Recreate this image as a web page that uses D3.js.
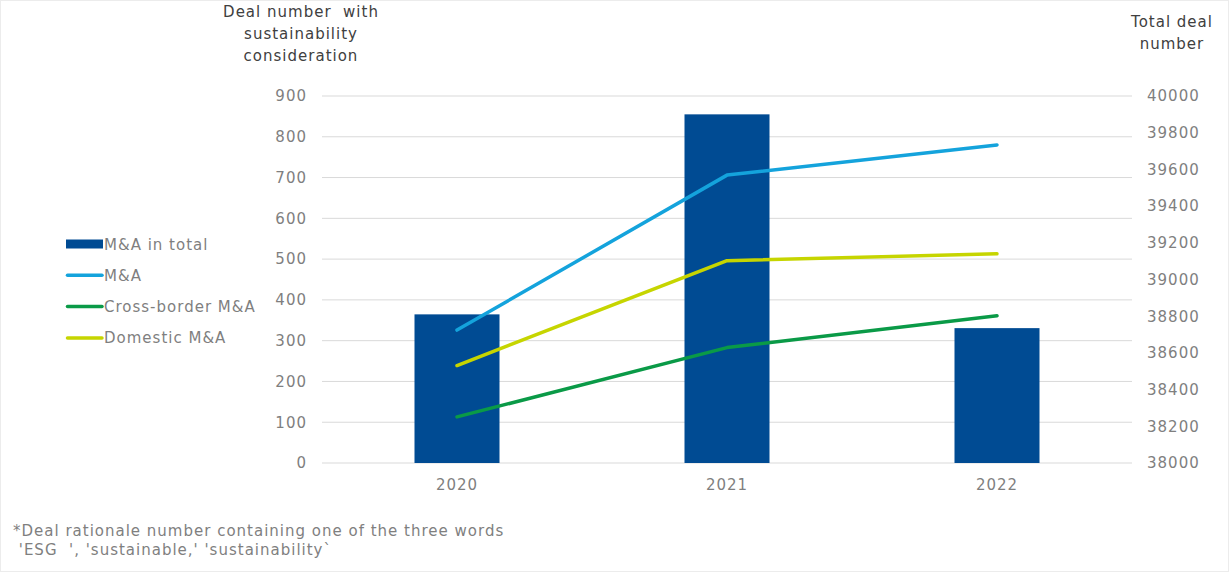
<!DOCTYPE html>
<html>
<head>
<meta charset="utf-8">
<script src="https://cdn.jsdelivr.net/npm/d3@7"></script>
<style>
  body { margin: 0; background: #fff; }
  text { font-family: "DejaVu Sans", Verdana, sans-serif; letter-spacing: 1px; }
</style>
</head>
<body>
<svg id="chart" width="1229" height="572"></svg>
<script>
const years = ["2020", "2021", "2022"];
const totalDeals = [38810, 39900, 38735];      // bars, right axis
const maDeals = [326, 706, 780];               // lines, left axis
const crossBorderDeals = [113, 283, 361];
const domesticDeals = [239, 496, 513];
const leftTicks = [0, 100, 200, 300, 400, 500, 600, 700, 800, 900];
const rightTicks = [38000, 38200, 38400, 38600, 38800, 39000, 39200, 39400, 39600, 39800, 40000];

const svg = d3.select("#chart");
const margin = {left: 322, right: 1132, top: 96, bottom: 463};
const grey = "#7f7f7f";

svg.append("rect")
    .attr("x", 0.5).attr("y", 0.5).attr("width", 1228).attr("height", 571)
    .attr("fill", "none").attr("stroke", "#ececec");

const x = d3.scaleBand().domain(years).range([margin.left, margin.right]);
const yLeft = d3.scaleLinear().domain([0, 900]).range([margin.bottom, margin.top]);
const yRight = d3.scaleLinear().domain([38000, 40000]).range([margin.bottom, margin.top]);

// gridlines
svg.append("g")
  .selectAll("line")
  .data(leftTicks)
  .enter().append("line")
    .attr("x1", margin.left).attr("x2", margin.right)
    .attr("y1", d => yLeft(d)).attr("y2", d => yLeft(d))
    .attr("stroke", "#d9d9d9").attr("stroke-width", 1);

const styleTicks = (g) => {
  g.select(".domain").remove();
  g.selectAll("text").attr("fill", grey).style("font-size", "15px")
    .style("font-family", "DejaVu Sans, sans-serif").style("letter-spacing", "1px");
};

// left axis
svg.append("g")
    .attr("transform", `translate(${margin.left - 15},0)`)
    .call(d3.axisLeft(yLeft).tickValues(leftTicks).tickSize(0).tickPadding(0))
    .call(styleTicks);

// right axis
svg.append("g")
    .attr("transform", `translate(${margin.right + 15},0)`)
    .call(d3.axisRight(yRight).tickValues(rightTicks).tickSize(0).tickPadding(0).tickFormat(d3.format("d")))
    .call(styleTicks);

// x axis labels
svg.append("g")
    .attr("transform", `translate(0,${margin.bottom + 16})`)
    .call(d3.axisBottom(x).tickSize(0).tickPadding(0))
    .call(styleTicks);

// bars
const barW = 85;
svg.append("g")
  .selectAll("rect")
  .data(years)
  .enter().append("rect")
    .attr("x", d => x(d) + x.bandwidth() / 2 - barW / 2)
    .attr("width", barW)
    .attr("y", (d, i) => yRight(totalDeals[i]))
    .attr("height", (d, i) => yRight(38000) - yRight(totalDeals[i]))
    .attr("fill", "#004b93");

// lines
const series = [
  {name: "M&A", values: maDeals, color: "#14a3dc"},
  {name: "Cross-border M&A", values: crossBorderDeals, color: "#0a9a47"},
  {name: "Domestic M&A", values: domesticDeals, color: "#c6d500"}
];
const line = d3.line()
    .x((d, i) => x(years[i]) + x.bandwidth() / 2)
    .y(d => yLeft(d));
svg.append("g")
  .selectAll("path")
  .data(series)
  .enter().append("path")
    .attr("d", d => line(d.values))
    .attr("fill", "none")
    .attr("stroke", d => d.color)
    .attr("stroke-width", 3.5)
    .attr("stroke-linecap", "round")
    .attr("stroke-linejoin", "round");

// legend
const legendItems = [{name: "M&A in total", color: "#004b93", bar: true}].concat(series);
const legend = svg.append("g").attr("transform", "translate(66,244)");
legendItems.forEach((d, i) => {
  const g = legend.append("g").attr("transform", `translate(0,${i * 31.3})`);
  if (d.bar) {
    g.append("rect").attr("x", 0).attr("y", -4.5).attr("width", 37).attr("height", 9).attr("fill", d.color);
  } else {
    g.append("line").attr("x1", 1.5).attr("x2", 36).attr("y1", 0).attr("y2", 0)
      .attr("stroke", d.color).attr("stroke-width", 3.5).attr("stroke-linecap", "round");
  }
  g.append("text").attr("x", 38).attr("y", 5.5).attr("fill", grey)
    .style("font-size", "15px").text(d.name);
});

// axis titles
const leftTitle = ["Deal number  with", "sustainability", "consideration"];
svg.append("g").selectAll("text")
  .data(leftTitle)
  .enter().append("text")
    .attr("x", 301).attr("y", (d, i) => 17 + i * 22)
    .attr("text-anchor", "middle").attr("fill", "#404040")
    .style("font-size", "15px").style("white-space", "pre")
    .attr("xml:space", "preserve")
    .text(d => d);

const rightTitle = ["Total deal", "number"];
svg.append("g").selectAll("text")
  .data(rightTitle)
  .enter().append("text")
    .attr("x", 1172).attr("y", (d, i) => 27 + i * 22)
    .attr("text-anchor", "middle").attr("fill", "#404040")
    .style("font-size", "15px")
    .text(d => d);

// footnote
const footnote = ["*Deal rationale number containing one of the three words", " 'ESG  ', 'sustainable,' 'sustainability`"];
svg.append("g").selectAll("text")
  .data(footnote)
  .enter().append("text")
    .attr("x", 13).attr("y", (d, i) => 536 + i * 19)
    .attr("fill", grey).attr("xml:space", "preserve")
    .style("font-size", "15px").style("white-space", "pre")
    .text(d => d);
</script>
</body>
</html>
